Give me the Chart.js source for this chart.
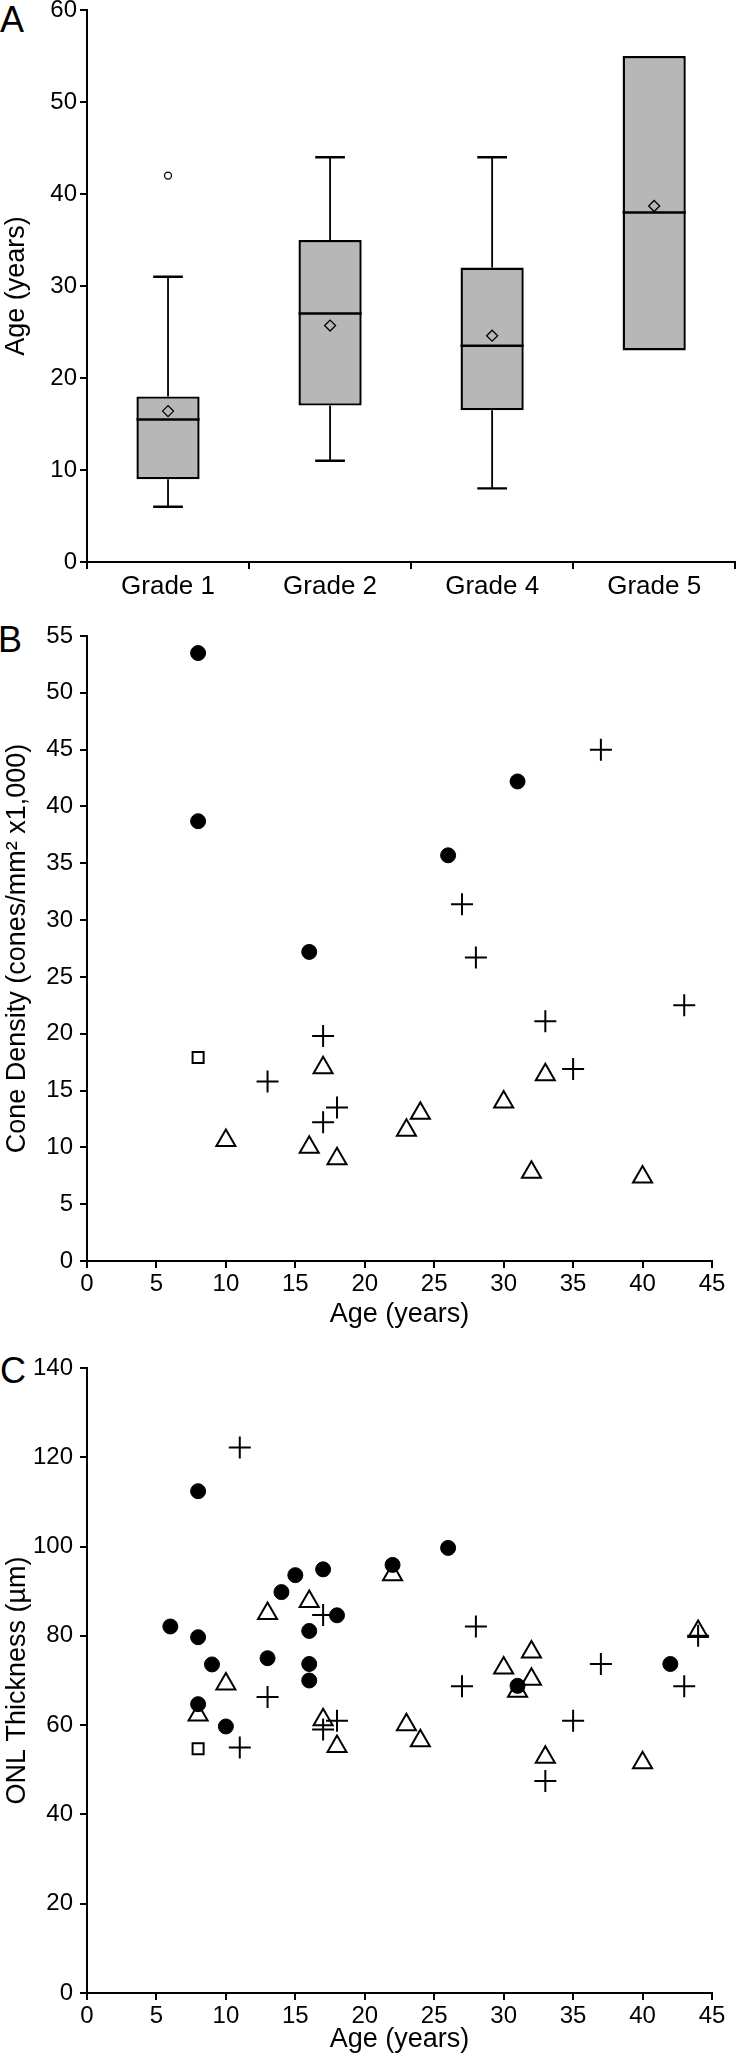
<!DOCTYPE html>
<html>
<head>
<meta charset="utf-8">
<script src="https://cdn.jsdelivr.net/npm/chart.js@4.4.0/dist/chart.umd.min.js"></script>
<style>
  body { margin: 0; background: #fff; width: 742px; height: 2056px; position: relative; overflow: hidden; font-family: 'Liberation Sans', Arial, sans-serif; }
  canvas { position: absolute; left: 0; }
  .letter { position: absolute; font-size: 36px; line-height: 1; color: #000; }
</style>
</head>
<body>
<div class="letter" style="top:2px;left:0">A</div>
<div class="letter" style="top:622px;left:-2px">B</div>
<div class="letter" style="top:1353px;left:0">C</div>
<canvas id="chartA" width="742" height="650" style="top:-30px"></canvas>
<canvas id="chartB" width="742" height="730" style="top:600px"></canvas>
<canvas id="chartC" width="742" height="726" style="top:1330px"></canvas>
<script>
// Panel A: age by grade (box plot)
const grades = ['Grade 1', 'Grade 2', 'Grade 4', 'Grade 5'];
const ageMin = [6, 11, 8, 23];
const ageQ1 = [9, 17, 16.5, 23];
const ageMedian = [15.5, 27, 23.5, 38];
const ageQ3 = [18, 35, 32, 55];
const ageMax = [31, 44, 44, 55];
const ageMean = [16.4, 25.7, 24.6, 38.7];
const outlierGrade = ['Grade 1'];
const outlierAge = [42];

// Panel B: cone density vs age
const densCircleAge = [8, 8, 16, 26, 31];
const densCircle = [53.5, 38.7, 27.2, 35.7, 42.2];
const densCrossAge = [13, 17, 17, 18, 27, 28, 33, 35, 37, 43];
const densCross = [15.8, 19.8, 12.2, 13.5, 31.4, 26.7, 21.1, 16.9, 45, 22.5];
const densTriangleAge = [10, 16, 17, 18, 23, 24, 30, 32, 33, 40];
const densTriangle = [10.6, 10, 17, 9, 11.5, 13, 14, 7.8, 16.4, 7.4];
const densSquareAge = [8];
const densSquare = [17.9];

// Panel C: ONL thickness vs age
const onlCircleAge = [6, 8, 8, 8, 9, 10, 13, 14, 15, 16, 16, 16, 17, 18, 22, 26, 31, 42];
const onlCircle = [82.1, 112.4, 79.7, 64.7, 73.6, 59.7, 75, 89.8, 93.6, 81.1, 73.7, 70, 94.9, 84.6, 95.9, 99.7, 68.8, 73.7];
const onlCrossAge = [11, 11, 13, 17, 17, 18, 27, 28, 33, 35, 37, 43, 44];
const onlCross = [122.2, 55, 66.3, 84.7, 59, 61, 68.7, 82.1, 47.5, 61, 73.7, 68.7, 80];
const onlTriangleAge = [8, 10, 13, 16, 17, 18, 22, 23, 24, 30, 31, 32, 32, 33, 40, 44];
const onlTriangle = [62.3, 69.2, 85, 87.7, 61.2, 55.2, 93.7, 60.1, 56.5, 72.8, 67.6, 76.4, 70.3, 52.8, 51.6, 81];
const onlSquareAge = [8];
const onlSquare = [54.7];

const FAMILY = "'Liberation Sans', Arial, sans-serif";
const tickFont = { family: FAMILY, size: 24 };
const titleFont = { family: FAMILY, size: 27, lineHeight: 1 };

function axisStyle(pad) {
  return {
    border: { display: true, color: '#000', width: 2 },
    grid: { display: true, drawOnChartArea: false, drawTicks: true, tickLength: 7, color: '#000', lineWidth: 2 },
    ticks: { color: '#000', font: tickFont, padding: pad }
  };
}

const pts = (xs, ys) => xs.map((x, i) => ({ x: x, y: ys[i] }));

// whiskers and median lines drawn from the box values through the scales
const boxPlotParts = {
  id: 'boxPlotParts',
  beforeDatasetsDraw(chart) {
    const { ctx, scales: { x, y } } = chart;
    const boxes = chart.getDatasetMeta(0).data;
    ctx.save();
    ctx.strokeStyle = '#000';
    boxes.forEach((bar, i) => {
      if (ageMin[i] === ageQ1[i] && ageMax[i] === ageQ3[i]) return;
      const cx = x.getPixelForValue(i);
      const cap = bar.width * 0.235;
      const yMin = y.getPixelForValue(ageMin[i]);
      const yMax = y.getPixelForValue(ageMax[i]);
      const yQ1 = y.getPixelForValue(ageQ1[i]);
      const yQ3 = y.getPixelForValue(ageQ3[i]);
      ctx.lineWidth = 1.8;
      ctx.beginPath();
      ctx.moveTo(cx, yQ3); ctx.lineTo(cx, yMax);
      ctx.moveTo(cx, yQ1); ctx.lineTo(cx, yMin);
      ctx.stroke();
      ctx.lineWidth = 2.4;
      ctx.beginPath();
      ctx.moveTo(cx - cap, yMax); ctx.lineTo(cx + cap, yMax);
      ctx.moveTo(cx - cap, yMin); ctx.lineTo(cx + cap, yMin);
      ctx.stroke();
    });
    ctx.restore();
  },
  afterDatasetDraw(chart, args) {
    if (args.index !== 0) return;
    const { ctx, scales: { x, y } } = chart;
    const boxes = chart.getDatasetMeta(0).data;
    ctx.save();
    ctx.strokeStyle = '#000';
    ctx.lineWidth = 2.5;
    boxes.forEach((bar, i) => {
      const cx = x.getPixelForValue(i);
      const half = bar.width / 2;
      const ym = y.getPixelForValue(ageMedian[i]);
      ctx.beginPath();
      ctx.moveTo(cx - half, ym); ctx.lineTo(cx + half, ym);
      ctx.stroke();
    });
    ctx.restore();
  }
};

const yA = axisStyle(3);
new Chart(document.getElementById('chartA'), {
  type: 'bar',
  data: {
    labels: grades,
    datasets: [
      {
        label: 'IQR',
        order: 3,
        data: grades.map((g, i) => [ageQ1[i], ageQ3[i]]),
        backgroundColor: '#b7b7b7',
        borderColor: '#000',
        borderWidth: 2.4,
        borderSkipped: false,
        barPercentage: 0.39,
        categoryPercentage: 1
      },
      {
        type: 'line',
        label: 'Mean',
        order: 1,
        data: ageMean,
        showLine: false,
        pointStyle: 'rectRot',
        pointRadius: 5.5,
        pointBackgroundColor: 'rgba(0,0,0,0)',
        pointBorderColor: '#000',
        pointBorderWidth: 1.3
      },
      {
        type: 'line',
        label: 'Outlier',
        order: 1,
        data: outlierGrade.map((g, i) => ({ x: g, y: outlierAge[i] })),
        showLine: false,
        pointStyle: 'circle',
        pointRadius: 3.5,
        pointBackgroundColor: 'rgba(0,0,0,0)',
        pointBorderColor: '#000',
        pointBorderWidth: 1.3
      }
    ]
  },
  options: {
    responsive: false,
    animation: false,
    layout: { padding: { top: 40, left: 0, right: 1, bottom: 0 } },
    plugins: { legend: { display: false }, tooltip: { enabled: false } },
    scales: {
      x: {
        type: 'category',
        offset: true,
        ...axisStyle(2),
        grid: { display: true, offset: true, drawOnChartArea: false, drawTicks: true, tickLength: 7, color: '#000', lineWidth: 2 },
        ticks: { color: '#000', font: { family: FAMILY, size: 26 }, padding: 2 },
        afterFit(scale) { scale.height = 58; }
      },
      y: {
        min: 0, max: 60,
        ...yA,
        ticks: { ...yA.ticks, stepSize: 10 },
        title: { display: true, text: 'Age (years)', color: '#000', font: titleFont, padding: { top: 3.5, bottom: 0 } },
        afterFit(scale) { scale.width = 87; }
      }
    }
  },
  plugins: [boxPlotParts]
});

function scatterSets(c, cy, p, py, t, ty, s, sy) {
  return [
    { label: 'circle', data: pts(c, cy), pointStyle: 'circle', pointRadius: 7.5, backgroundColor: '#000', borderColor: '#000', borderWidth: 1 },
    { label: 'triangle', data: pts(t, ty), pointStyle: 'triangle', pointRadius: 11, backgroundColor: 'rgba(0,0,0,0)', borderColor: '#000', borderWidth: 2 },
    { label: 'cross', data: pts(p, py), pointStyle: 'cross', pointRadius: 11, borderColor: '#000', borderWidth: 2 },
    { label: 'square', data: pts(s, sy), pointStyle: 'rect', pointRadius: 7.8, backgroundColor: 'rgba(0,0,0,0)', borderColor: '#000', borderWidth: 2 }
  ];
}

function scatterChart(id, sets, yMax, yStep, yTitle, xHeight, titleGap, padTop) {
  const xs = axisStyle(2);
  const ys = axisStyle(7);
  return new Chart(document.getElementById(id), {
    type: 'scatter',
    data: { datasets: sets },
    options: {
      responsive: false,
      animation: false,
      layout: { padding: { top: padTop, left: 0, right: 30, bottom: 0 } },
      plugins: { legend: { display: false }, tooltip: { enabled: false } },
      scales: {
        x: {
          type: 'linear', min: 0, max: 45,
          ...xs,
          ticks: { ...xs.ticks, stepSize: 5 },
          title: { display: true, text: 'Age (years)', color: '#000', font: titleFont, padding: { top: 0, bottom: titleGap } },
          afterFit(scale) { scale.height = xHeight; }
        },
        y: {
          type: 'linear', min: 0, max: yMax,
          ...ys,
          ticks: { ...ys.ticks, stepSize: yStep },
          title: { display: true, text: yTitle, color: '#000', font: titleFont, padding: { top: 4, bottom: 0 } },
          afterFit(scale) { scale.width = 87; }
        }
      }
    }
  });
}

scatterChart('chartB',
  scatterSets(densCircleAge, densCircle, densCrossAge, densCross, densTriangleAge, densTriangle, densSquareAge, densSquare),
  55, 5, 'Cone Density (cones/mm\u00B2 x1,000)', 69, 1.5, 36);

scatterChart('chartC',
  scatterSets(onlCircleAge, onlCircle, onlCrossAge, onlCross, onlTriangleAge, onlTriangle, onlSquareAge, onlSquare),
  140, 20, 'ONL Thickness (\u00B5m)', 63, 2.5, 38);
</script>
</body>
</html>
